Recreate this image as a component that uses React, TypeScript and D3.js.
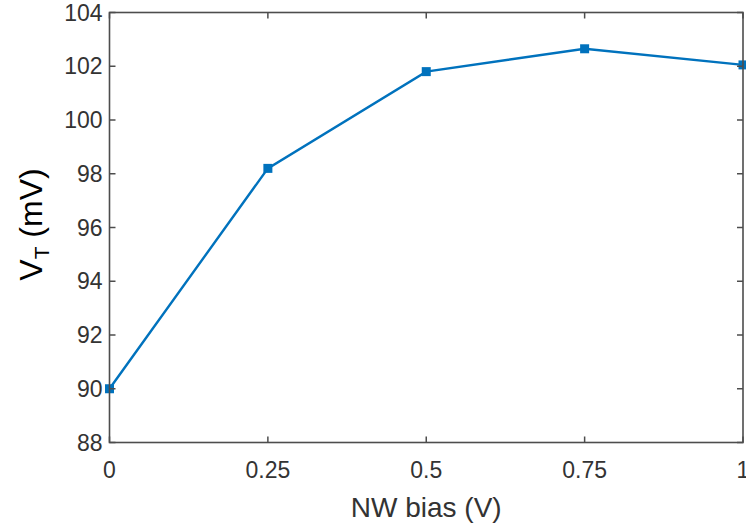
import React from "react";
import * as d3 from "d3";

const xValues = [0, 0.25, 0.5, 0.75, 1];
const yValues = [90.0, 98.2, 101.8, 102.65, 102.05];
const xTicks = [0, 0.25, 0.5, 0.75, 1];
const xTickLabels = ["0", "0.25", "0.5", "0.75", "1"];
const yTicks = [88, 90, 92, 94, 96, 98, 100, 102, 104];

export default function App() {
  const W = 746, H = 527;
  const left = 109.5, right = 743, top = 12.5, bottom = 442.5;
  const x = d3.scaleLinear().domain([0, 1]).range([left, right]);
  const y = d3.scaleLinear().domain([88, 104]).range([bottom, top]);
  const line = d3.line<number>().x((_, i) => x(xValues[i])).y((d) => y(d));
  const axisColor = "#4d4d4d";
  const textColor = "#333";
  const font = "'Liberation Sans', Arial, sans-serif";
  const tl = 6;
  return (
    <svg width={W} height={H} style={{ position: "absolute", left: 0, top: 0, background: "#fff" }}>
      <rect x={0} y={0} width={W} height={H} fill="#fff" />
      <path d={line(yValues) || ""} fill="none" stroke="#0072BD" strokeWidth={2.4} />
      {yValues.map((v, i) => (
        <rect key={i} x={x(xValues[i]) - 4.5} y={y(v) - 4.5} width={9} height={9} fill="#0072BD" />
      ))}
      <rect x={left} y={top} width={right - left} height={bottom - top} fill="none" stroke={axisColor} strokeWidth={1.6} />
      {xTicks.map((t, i) => (
        <g key={"x" + i}>
          <line x1={x(t)} x2={x(t)} y1={bottom} y2={bottom - tl} stroke={axisColor} strokeWidth={1.5} />
          <line x1={x(t)} x2={x(t)} y1={top} y2={top + tl} stroke={axisColor} strokeWidth={1.5} />
          <text x={x(t)} y={bottom + 35} textAnchor="middle" fontSize={23} fill={textColor} fontFamily={font}>
            {xTickLabels[i]}
          </text>
        </g>
      ))}
      {yTicks.map((t, i) => (
        <g key={"y" + i}>
          <line x1={left} x2={left + tl} y1={y(t)} y2={y(t)} stroke={axisColor} strokeWidth={1.5} />
          <line x1={right} x2={right - tl} y1={y(t)} y2={y(t)} stroke={axisColor} strokeWidth={1.5} />
          <text x={left - 7} y={y(t) + 8} textAnchor="end" fontSize={23} fill={textColor} fontFamily={font}>
            {t}
          </text>
        </g>
      ))}
      <text x={(left + right) / 2} y={517} textAnchor="middle" fontSize={28} fill={textColor} fontFamily={font}>
        NW bias (V)
      </text>
      <text transform={`translate(42, ${(top + bottom) / 2 - 3}) rotate(-90)`} textAnchor="middle" fontSize={32} fill="#000" fontFamily={font}>
        V<tspan fontSize={21} dy={7}>T</tspan><tspan dy={-7}> (mV)</tspan>
      </text>
    </svg>
  );
}
